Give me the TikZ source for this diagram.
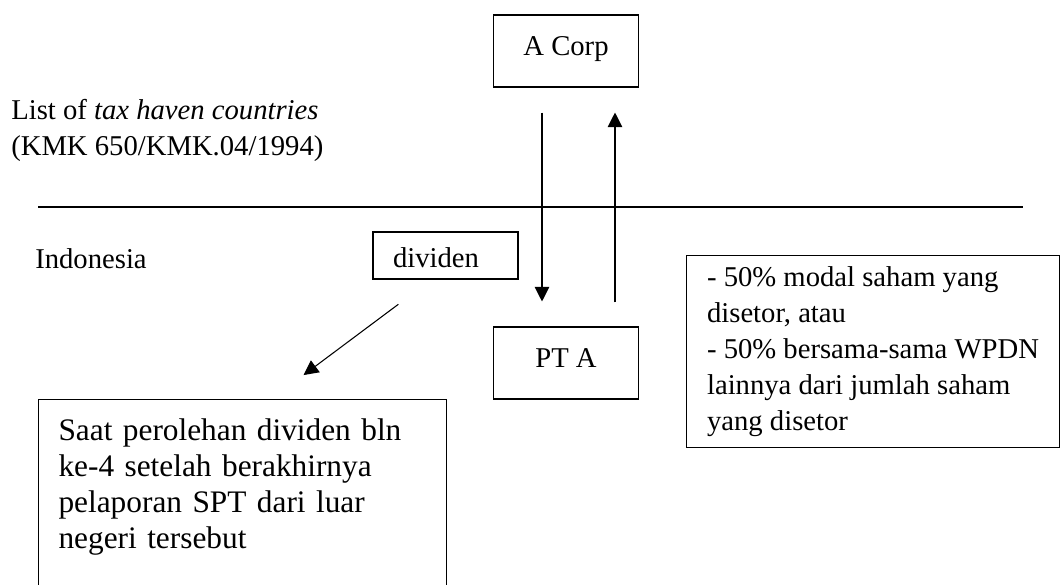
\documentclass[tikz,border=0pt]{standalone}
\usepackage{fontspec}
\setmainfont{Liberation Serif}
\usetikzlibrary{shapes,arrows.meta,positioning}

\begin{document}
\begin{tikzpicture}[
        x=0.75pt, y=-0.75pt,
        font=\fontsize{21.5pt}{27pt}\selectfont,
        kotak/.style={
            rectangle,
            draw=black,
            line width=0.8pt,
            inner sep=0pt
        },
        entitas/.style={
            kotak,
            minimum width=108.75pt,
            minimum height=54pt,
            text height=8pt,
            text depth=1.5pt
        },
        teks/.style={align=left, inner sep=0pt},
        panah/.style={-{Triangle[length=11pt,width=11pt]}, line width=0.8pt}
    ]
    \useasboundingbox (0,0) rectangle (1061,585);
    \clip (0,0) rectangle (1061,585);

    \node[entitas] (acorp) at (566,51) {A Corp};
    \node[entitas] (pta) at (566,363) {PT A};
    \node[kotak, inner xsep=15pt, minimum height=35.25pt,
          text height=17.25pt, text depth=0pt] (dividen) at (445.5,255.5) {\makebox[78.75pt][l]{dividen}};
    \node[kotak, align=left, anchor=north west, text width=276pt, inner xsep=15pt, inner ysep=14.7pt,
          text depth=200pt, font=\fontsize{23.5pt}{26.8pt}\selectfont] (saat) at (38,399)
        {Saat perolehan dividen bln\\ke-4 setelah berakhirnya\\pelaporan SPT dari luar\\negeri tersebut};
    \node[kotak, align=left, anchor=north west, minimum width=279.75pt, minimum height=144pt] (syarat) at (686,255)
        {- 50\% modal saham yang\\disetor, atau\\- 50\% bersama-sama WPDN\\lainnya dari jumlah saham\\yang disetor};

    \node[teks, anchor=north west] (daftar) at (11,99.4)
        {List of \textit{tax haven countries}\\(KMK 650/KMK.04/1994)};
    \node[teks, anchor=base west] (indonesia) at (35,268) {Indonesia};

    % batas negara
    \draw[line width=0.8pt] (38,207) -- (1023,207);

    \draw[panah, shorten <=18.75pt, shorten >=18.75pt] ([xshift=-18pt]acorp.south) -- ([xshift=-18pt]pta.north);
    \draw[panah, shorten <=18pt, shorten >=18.75pt] ([xshift=36.75pt]pta.north) -- ([xshift=36.75pt]acorp.south);
    \draw[panah, shorten <=31pt, shorten >=30pt] ([xshift=-10.5pt]dividen.south) -- ([xshift=21.75pt]saat.north);

\end{tikzpicture}
\end{document}
